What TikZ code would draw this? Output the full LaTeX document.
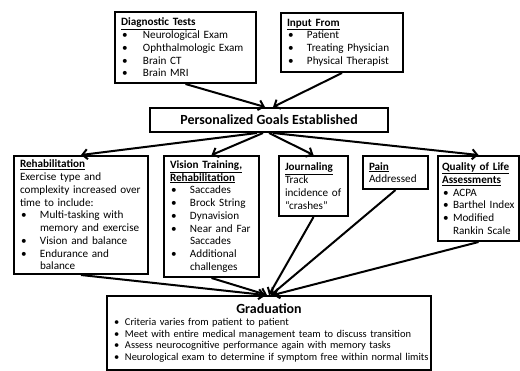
\documentclass[tikz,border=0pt]{standalone}
\usepackage{fontspec}
\setmainfont{Carlito}
\usetikzlibrary{arrows.meta}
\hyphenpenalty=10000
\newcommand{\itm}[2][20bp]{\par\noindent\hangindent=#1\hangafter=1\makebox[#1][l]{\hspace{1bp}\textbullet}#2\par}
\newcommand{\hd}[1]{\underline{\textbf{#1}}}
\newcommand{\nl}{\break}

\begin{document}
\begin{tikzpicture}[x=1bp, y=-1bp,
  box/.style={draw, line width=2bp, anchor=north west, align=left, inner xsep=6bp, inner ysep=2bp, font=\fontsize{11.2}{12.8}\selectfont},
  conn/.style={line width=2bp, -{Straight Barb[length=5bp,width=10bp]}}]
  \useasboundingbox (0,0) rectangle (520,370);
  \node[box, text width=129bp, minimum height=71bp] (diag) at (114,11) {\hd{Diagnostic Tests}
    \itm[22bp]{Neurological Exam}\itm[22bp]{Ophthalmologic Exam}\itm[22bp]{Brain CT}\itm[22bp]{Brain MRI}};
  \node[box, text width=110bp, minimum height=59bp] (inp) at (280,12) {\hd{Input From}
    \itm{Patient}\itm{Treating Physician}\itm{Physical Therapist}};
  \node[box, minimum width=238bp, minimum height=24bp, font=\fontsize{14}{16}\selectfont\bfseries] (goals) at (149,107) {Personalized Goals Established};
  \node[box, text width=122bp, minimum height=118bp] (rehab) at (13,155) {\hd{Rehabilitation}\nl
    Exercise type and\nl complexity increased over\nl time to include:
    \itm{Multi-tasking with\nl memory and exercise}\itm{Vision and balance}\itm{Endurance and\nl balance}};
  \node[box, text width=83bp, minimum height=121bp] (vis) at (163,155) {\hd{Vision Training,}\nl \hd{Rehabilitation}
    \itm{Saccades}\itm{Brock String}\itm{Dynavision}\itm{Near and Far\nl Saccades}\itm{Additional\nl challenges}};
  \node[box, text width=57bp, minimum height=60bp] (jour) at (278,155) {\hd{Journaling}\nl Track\nl incidence of\nl ``crashes''};
  \node[box, text width=53bp, minimum height=33bp] (pain) at (362,155) {\hd{Pain}\nl Addressed};
  \node[box, text width=73bp, inner xsep=4bp, minimum height=85bp] (qol) at (437,155) {\hd{Quality of Life}\nl \hd{Assessments}
    \itm[11bp]{ACPA}\itm[11bp]{\mbox{Barthel Index}}\itm[11bp]{Modified\nl Rankin Scale}};
  \node[box, text width=312bp, minimum height=74bp, font=\fontsize{10.5}{11.8}\selectfont] (grad) at (106,295) {\makebox[\linewidth][c]{\fontsize{14}{16}\selectfont\bfseries Graduation}
    \itm[12bp]{Criteria varies from patient to patient}\itm[12bp]{Meet with entire medical management team to discuss transition}
    \itm[12bp]{Assess neurocognitive performance again with memory tasks}\itm[12bp]{\mbox{Neurological exam to determine if symptom free within normal limits}}};
  \draw[conn] (diag.south) -- ([xshift=-4bp]goals.north);
  \draw[conn] (inp.south) -- ([xshift=4bp]goals.north);
  \draw[conn] ([xshift=-12bp]goals.south) -- (rehab.north);
  \draw[conn] ([xshift=-6bp]goals.south) -- (vis.north);
  \draw[conn] (goals.south) -- (jour.north);
  \draw[conn] ([xshift=4bp]goals.south) -- (qol.north);
  \foreach \n/\s in {rehab/-4, vis/-2, jour/0, pain/2, qol/4}
    \draw[conn] (\n.south) -- ([xshift=\s bp]grad.north);
\end{tikzpicture}
\end{document}
